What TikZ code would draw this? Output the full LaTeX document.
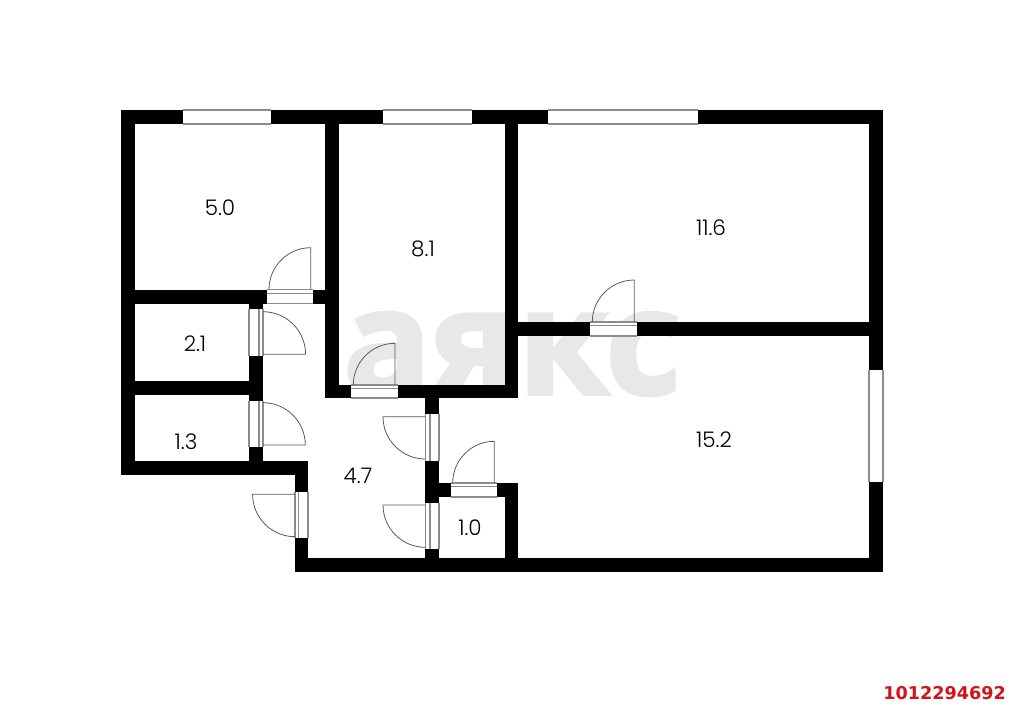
\documentclass[tikz,border=0pt]{standalone}
\usepackage{fontspec}
\setmainfont{Poppins}[UprightFont=* Light]
\newfontfamily\wmfont[Script=Cyrillic,FakeBold=2.6]{Open Sans}
\newfontfamily\idfont{DejaVu Sans}
\definecolor{wm}{HTML}{E8E8E8}
\definecolor{idred}{HTML}{D2131C}
\definecolor{thin}{HTML}{5A5A5A}
\definecolor{edge}{HTML}{8C8C8C}
\tikzset{
  wall/.style={fill=black,draw=none},
  opening/.style={fill=white,draw=none},
  jamb/.style={draw=edge,line width=1.1pt},
  panel/.style={draw=edge,line width=1.1pt},
  leaf/.style={draw=thin,line width=0.8pt},
  roomlabel/.style={font=\fontsize{21.5}{21.5}\selectfont,text=black,inner sep=0pt},
}
\begin{document}
\begin{tikzpicture}[x=1pt,y=-1pt]
\useasboundingbox (0,0) rectangle (1024,707);
\fill[white] (0,0) rectangle (1024,707);
\node[name=watermark,text=wm,inner sep=0pt,font=\wmfont\bfseries\fontsize{146}{146}\selectfont] at (512,354) {аякс};
% walls
\foreach \a/\b/\c/\d in {
 121/110/883/124, 121/110/135/475, 325/110/339/398, 325/385/518/398,
 505/110/518/398, 505/322/883/336, 869/110/883/572, 295/558/883/572,
 121/289.5/325/303.5, 249/289.5/263/475, 121/381/263/395, 121/461/308/475,
 295/461/308/572, 425/385/439/572, 425/483/518/497, 505/483/518/572}
  {\fill[wall] (\a,\b) rectangle (\c,\d);}
% windows
\foreach \a/\b/\c/\d in {183.3/110/271.3/124, 383/110/472/124, 548/110/698/124}{
  \fill[opening] (\a,\b) rectangle (\c,\d);
  \draw[jamb] (\a,\b) -- (\c,\b) (\a,\d) -- (\c,\d);
}
\fill[opening] (869,370) rectangle (883,482);
\draw[jamb] (869,370) -- (869,482) (883,370) -- (883,482);
% horizontal doors: x1, x2, wall top, wall bottom, leaf x, leaf top, arc end x
\foreach \xa/\xb/\yt/\yb/\lx/\ly/\ax in {
 266.7/313/289.5/303.5/310.7/247.7/269,
 351.3/397.7/385/398/395/343.3/353.3,
 590/636.7/322/336/634.3/280/592.3,
 450.7/496.7/483/497/494.3/441.3/452.7}{
  \fill[opening] (\xa,\yt) rectangle (\xb,\yb);
  \draw[jamb] (\xa,\yt) -- (\xb,\yt) (\xa,\yb) -- (\xb,\yb);
  \draw[panel] (\xa,\yt+3.7) -- (\xb,\yt+3.7);
  \pgfmathsetmacro\k{0.5523*(\lx-\ax)}
  \draw[leaf] (\ax,\yt) .. controls (\ax,\yt-\k) and (\lx-\k,\ly) .. (\lx,\ly) -- (\lx,\yt);
}
% vertical doors, leaf to the right
\foreach \ya/\yb/\ly/\ay in {309.3/356/354.3/311.7, 400.7/447.3/445/402.7}{
  \fill[opening] (249,\ya) rectangle (263,\yb);
  \draw[jamb] (249,\ya) -- (249,\yb) (263,\ya) -- (263,\yb);
  \draw[panel] (259,\ya) -- (259,\yb);
  \pgfmathsetmacro\k{0.5523*(\ly-\ay)}
  \pgfmathsetmacro\r{\ly-\ay}
  \draw[leaf] (263,\ay) .. controls (263+\k,\ay) and (263+\r,\ly-\k) .. (263+\r,\ly) -- (263,\ly);
}
% vertical doors, leaf to the left
\foreach \xa/\xb/\lin/\ya/\yb/\ly/\ay in {
 295/308/298.7/491.7/538.3/494.3/536.7,
 425.3/439/430/414/460.7/416.7/459,
 425.3/439/430/502.7/549.3/505/547.3}{
  \fill[opening] (\xa,\ya) rectangle (\xb,\yb);
  \draw[jamb] (\xa,\ya) -- (\xa,\yb) (\xb,\ya) -- (\xb,\yb);
  \draw[panel] (\lin,\ya) -- (\lin,\yb);
  \pgfmathsetmacro\k{0.5523*(\ay-\ly)}
  \pgfmathsetmacro\r{\ay-\ly}
  \draw[leaf] (\xa,\ay) .. controls (\xa-\k,\ay) and (\xa-\r,\ly+\k) .. (\xa-\r,\ly) -- (\xa,\ly);
}
% labels
\node[roomlabel] (r1) at (220,208) {5.0};
\node[roomlabel] (r2) at (423,249) {8.1};
\node[roomlabel] (r3) at (711,228) {11.6};
\node[roomlabel] (r4) at (195,344) {2.1};
\node[roomlabel] (r5) at (186,442) {1.3};
\node[roomlabel] (r6) at (358,476) {4.7};
\node[roomlabel] (r7) at (470,528) {1.0};
\node[roomlabel] (r8) at (714,440) {15.2};
\node[name=listing,anchor=east,text=idred,inner sep=0pt,font=\idfont\bfseries\fontsize{17.6}{17.6}\selectfont] at (1006,693) {1012294692};
\end{tikzpicture}
\end{document}
